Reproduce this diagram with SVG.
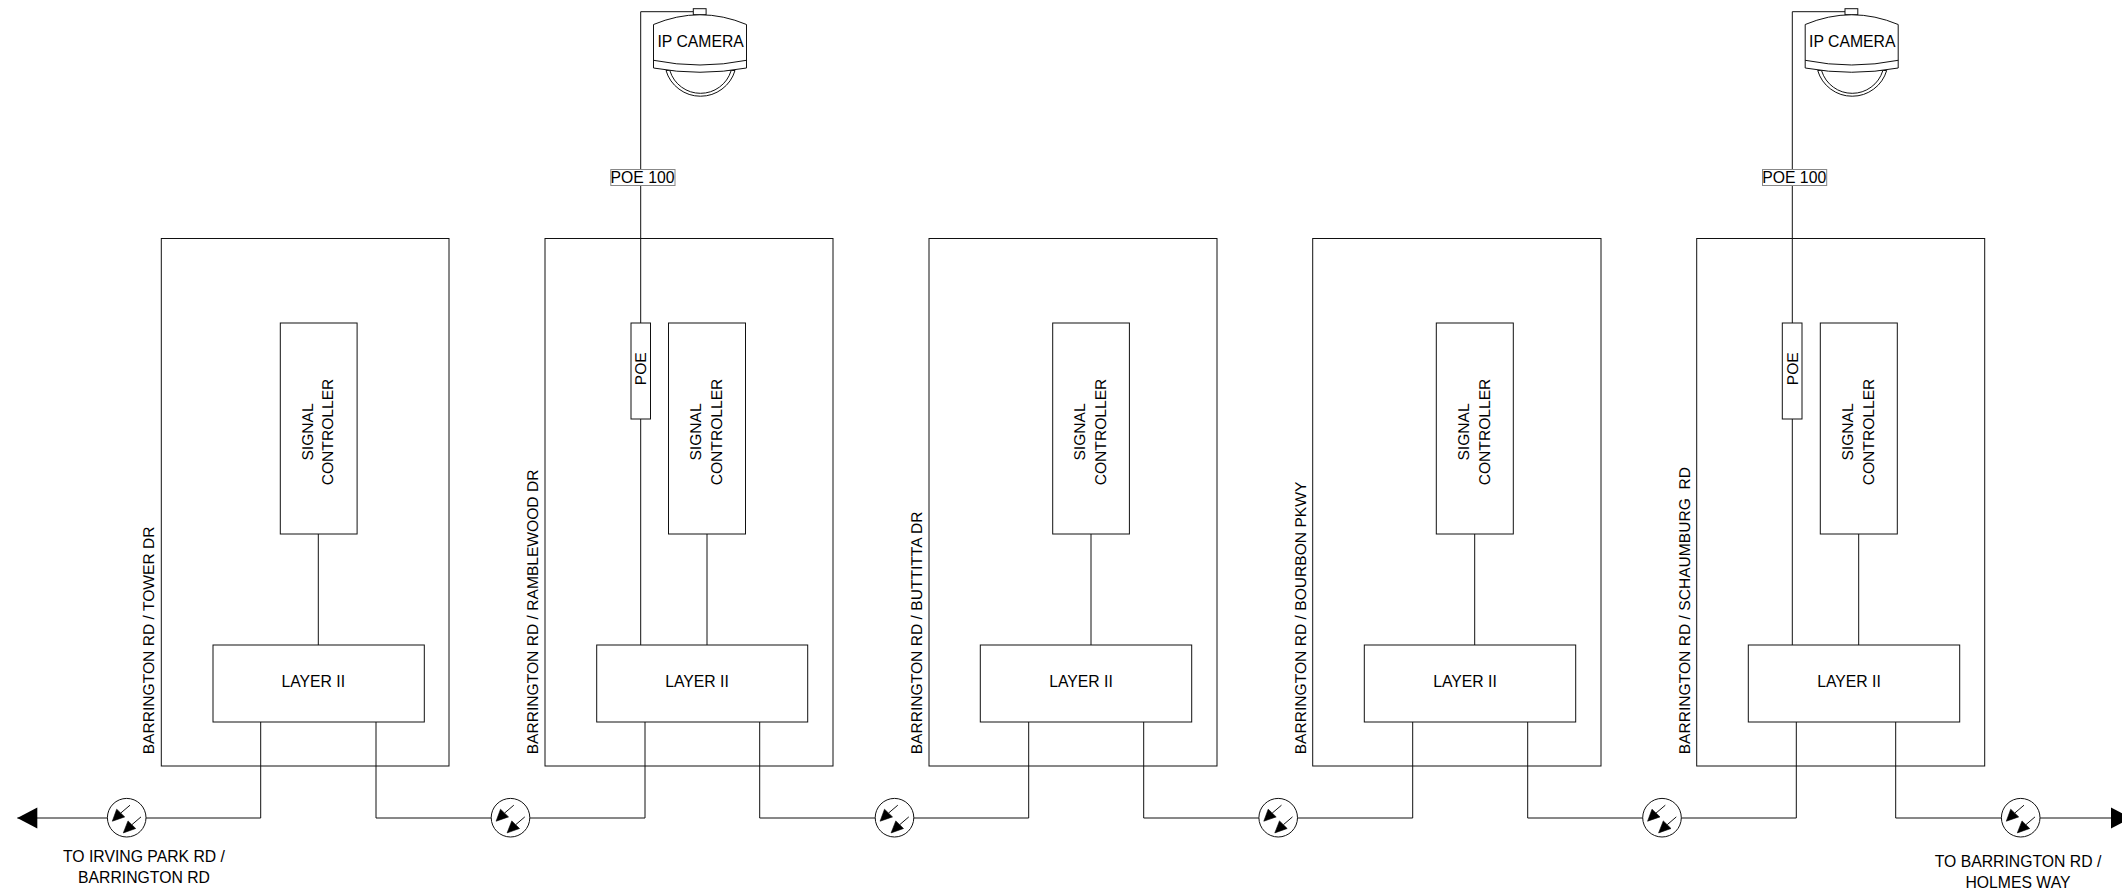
<svg xmlns="http://www.w3.org/2000/svg" width="2122" height="893" viewBox="0 0 2122 893">
<style>
text{font-family:"Liberation Sans",Arial,sans-serif;font-size:15.75px;fill:#000}
text.r{font-size:15.6px;text-rendering:geometricPrecision}
.m{text-anchor:middle}
.w{fill:none;stroke:#111;stroke-width:1}
.b{fill:#fff;stroke:#111;stroke-width:1}
.s{fill:none;stroke:#111;stroke-width:1}
.g{fill:#fff;stroke:#888;stroke-width:1}
.k{fill:#000;stroke:#000;stroke-width:.6}
</style>
<defs>
<marker id="arrow" markerUnits="userSpaceOnUse" markerWidth="20" markerHeight="21" refX="20" refY="10.5" orient="auto" overflow="visible"><path fill="#000" d="M0 0L20 10.5L0 21Z"/></marker>
<g id="fiber">
<circle class="b" r="19.3"/>
<path class="k" d="M-14.4 3.5L-10 -8.5L-2 -0.8Z"/><path class="w" d="M-6 -4.6L3.3 -12.5"/>
<path class="k" d="M-3.4 15.2L1.3 3.2L9 10.8Z"/><path class="w" d="M5.2 7L14.3 -0.8"/>
</g>
<g id="dome">
<path class="b" d="M666 70.5A36 36 0 0 0 735 70.5Z"/>
<path class="s" d="M670 71A32 32 0 0 0 731 71"/>
<rect class="b" x="693.3" y="8.7" width="12.8" height="6"/>
<path class="b" d="M653.5 24.5Q700 5 746.5 24.5V68Q700 76.5 653.5 68Z"/>
<path class="s" d="M653.5 60.3Q700 69.7 746.5 60.3"/>
</g>
</defs>
<g id="connectors">
<path class="w" d="M318.3 534V645M707 534V645M1091 534V645M1474.7 534V645M1858.7 534V645"/>
<path class="w" d="M640.7 645V11.7H693.3"/>
<path class="w" d="M1792.3 645V11.7H1845"/>
<path class="w" marker-end="url(#arrow)" d="M260.7 722V818H17.3"/>
<path class="w" d="M376 722V818H645V722"/>
<path class="w" d="M759.7 722V818H1028.7V722"/>
<path class="w" d="M1143.7 722V818H1412.7V722"/>
<path class="w" d="M1527.7 722V818H1796.3V722"/>
<path class="w" marker-end="url(#arrow)" d="M1895.7 722V818H2131"/>
</g>
<g id="site-1">
<rect class="s" x="161.3" y="238.5" width="287.7" height="527.5"/>
<rect class="b" x="280.3" y="323" width="76.8" height="211"/>
<text class="m r" transform="translate(312.7 432) rotate(-90)">SIGNAL</text>
<text class="m r" transform="translate(333.3 432) rotate(-90)">CONTROLLER</text>
<rect class="b" x="213" y="645" width="211.3" height="77"/>
<text class="m" x="313.3" y="687">LAYER II</text>
<text class="r" transform="translate(154.3 754.3) rotate(-90)">BARRINGTON RD / TOWER DR</text>
</g>
<g id="site-2">
<rect class="s" x="545" y="238.5" width="288" height="527.5"/>
<rect class="b" x="631" y="323" width="19.5" height="96"/>
<text class="m r" transform="translate(645.7 368.7) rotate(-90)">POE</text>
<rect class="b" x="668.5" y="323" width="77" height="211"/>
<text class="m r" transform="translate(701 432) rotate(-90)">SIGNAL</text>
<text class="m r" transform="translate(721.7 432) rotate(-90)">CONTROLLER</text>
<rect class="b" x="596.7" y="645" width="211" height="77"/>
<text class="m" x="697" y="687">LAYER II</text>
<text class="r" transform="translate(538 754.3) rotate(-90)">BARRINGTON RD / RAMBLEWOOD DR</text>
</g>
<g id="site-3">
<rect class="s" x="929" y="238.5" width="288" height="527.5"/>
<rect class="b" x="1052.7" y="323" width="76.7" height="211"/>
<text class="m r" transform="translate(1084.7 432) rotate(-90)">SIGNAL</text>
<text class="m r" transform="translate(1106 432) rotate(-90)">CONTROLLER</text>
<rect class="b" x="980.3" y="645" width="211.4" height="77"/>
<text class="m" x="1081" y="687">LAYER II</text>
<text class="r" transform="translate(921.7 754.3) rotate(-90)">BARRINGTON RD / BUTTITTA DR</text>
</g>
<g id="site-4">
<rect class="s" x="1312.7" y="238.5" width="288.3" height="527.5"/>
<rect class="b" x="1436.3" y="323" width="77" height="211"/>
<text class="m r" transform="translate(1468.7 432) rotate(-90)">SIGNAL</text>
<text class="m r" transform="translate(1490 432) rotate(-90)">CONTROLLER</text>
<rect class="b" x="1364.3" y="645" width="211.4" height="77"/>
<text class="m" x="1465" y="687">LAYER II</text>
<text class="r" transform="translate(1305.7 754.3) rotate(-90)">BARRINGTON RD / BOURBON PKWY</text>
</g>
<g id="site-5">
<rect class="s" x="1696.7" y="238.5" width="288" height="527.5"/>
<rect class="b" x="1782.3" y="323" width="19.7" height="96"/>
<text class="m r" transform="translate(1797.7 368.7) rotate(-90)">POE</text>
<rect class="b" x="1820.3" y="323" width="77" height="211"/>
<text class="m r" transform="translate(1852.7 432) rotate(-90)">SIGNAL</text>
<text class="m r" transform="translate(1874 432) rotate(-90)">CONTROLLER</text>
<rect class="b" x="1748.3" y="645" width="211.4" height="77"/>
<text class="m" x="1849" y="687">LAYER II</text>
<text class="r" xml:space="preserve" style="white-space:pre" transform="translate(1689.7 754.3) rotate(-90)">BARRINGTON RD / SCHAUMBURG  RD</text>
</g>
<g id="camera-1">
<use href="#dome"/>
<text class="m" x="700.6" y="47.2">IP CAMERA</text>
</g>
<g id="camera-2">
<use href="#dome" x="1151.7"/>
<text class="m" x="1852.3" y="47.2">IP CAMERA</text>
</g>
<g id="poe100-1">
<rect class="g" x="610.8" y="169.5" width="64.2" height="16"/>
<text class="m" x="642.5" y="183">POE 100</text>
</g>
<g id="poe100-2">
<rect class="g" x="1762.5" y="169.5" width="64.2" height="16"/>
<text class="m" x="1794.2" y="183">POE 100</text>
</g>
<g id="fiber-1"><use href="#fiber" x="126.7" y="817.7"/></g>
<g id="fiber-2"><use href="#fiber" x="510.5" y="817.7"/></g>
<g id="fiber-3"><use href="#fiber" x="894.5" y="817.7"/></g>
<g id="fiber-4"><use href="#fiber" x="1278.2" y="817.7"/></g>
<g id="fiber-5"><use href="#fiber" x="1662" y="817.7"/></g>
<g id="fiber-6"><use href="#fiber" x="2020.7" y="817.7"/></g>
<g id="label-west">
<text class="m" x="144" y="861.7">TO IRVING PARK RD /</text>
<text class="m" x="144" y="882.7">BARRINGTON RD</text>
</g>
<g id="label-east">
<text class="m" x="2018" y="867.3">TO BARRINGTON RD /</text>
<text class="m" x="2018" y="888.3">HOLMES WAY</text>
</g>
</svg>
